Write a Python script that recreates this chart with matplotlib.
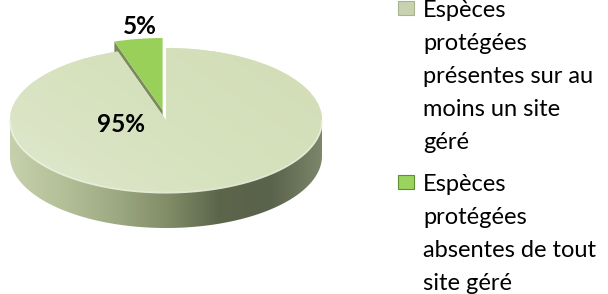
import numpy as np
import matplotlib
matplotlib.use("Agg")
import matplotlib.pyplot as plt
from matplotlib.colors import LinearSegmentedColormap
from matplotlib.patches import Polygon, Rectangle

# ---- data ----
categories = ["Espèces protégées présentes sur au moins un site géré",
              "Espèces protégées absentes de tout site géré"]
legend_lines = [["Espèces", "protégées", "présentes sur au", "moins un site", "géré"],
                ["Espèces", "protégées", "absentes de tout", "site géré"]]
values = [95, 5]
pct_labels = ["95%", "5%"]

# ---- style ----
W, H = 608, 294
cx, cy = 166.0, 120.0      # pie centre in pixels (from top)
a, b = 156.0, 72.0         # ellipse semi-axes in pixels
T = 0.5                    # side thickness (data units, y)
face_colors = ["#d7e2bf", "#98d05a"]
explode = [0, 0.14]
FONT = "Lato"

fig = plt.figure(figsize=(W / 100, H / 100), dpi=100)
ax = fig.add_axes([0, 0, 1, 1])

wedges, _ = ax.pie(values, colors=face_colors, startangle=90, counterclock=False,
                   explode=explode, radius=1, wedgeprops=dict(linewidth=0, zorder=3))
ax.set_aspect("auto")
ax.set_xlim((0 - cx) / a, (W - cx) / a)
ax.set_ylim((cy - H) / b, cy / b)
ax.axis("off")

# side band of the big slice (front half of the cylinder)
t = np.linspace(np.pi, 2 * np.pi, 200)
top = np.column_stack([np.cos(t), np.sin(t)])
bot = np.column_stack([np.cos(t[::-1]), np.sin(t[::-1]) - T])
side = Polygon(np.vstack([top, bot]), closed=True, facecolor="none", edgecolor="none")
ax.add_patch(side)
side_cmap = LinearSegmentedColormap.from_list(
    "side", ["#c6d0ad", "#b4c098", "#9eaa83", "#838e69", "#5d664b", "#59624a", "#7c866a"])
grad = np.linspace(0, 1, 256).reshape(1, -1)
im = ax.imshow(grad, cmap=side_cmap, extent=[-1, 1, -1 - T, 0], aspect="auto",
               zorder=1, interpolation="bilinear")
im.set_clip_path(side)

# top face gradient for the big slice
face_cmap = LinearSegmentedColormap.from_list("face", ["#dfe8cd", "#d6e1bd", "#d2ddb8"])
xx, yy = np.meshgrid(np.linspace(0, 1, 200), np.linspace(0, 1, 100))
fg = 0.6 * xx + 0.4 * (1 - yy)
im2 = ax.imshow(fg, cmap=face_cmap, extent=[-1, 1, -1, 1], aspect="auto",
                zorder=3.5, interpolation="bilinear", origin="upper")
im2.set_clip_path(wedges[0])

# rim highlight along the front edge of the top face
ax.plot(np.cos(t), np.sin(t) - 0.01, color="#eef3e1", lw=1.2, zorder=4, alpha=0.9)

# radial wall of the exploded slice
ex, ey = wedges[1].center
ang = np.deg2rad(wedges[1].theta2)
ox, oy = ex + np.cos(ang), ey + np.sin(ang)
wall = Polygon([[ex, ey], [ox, oy], [ox, oy - T], [ex, ey - T]], closed=True,
               facecolor="#7b8a5c", edgecolor="none", zorder=2)
ax.add_patch(wall)

# percentage labels
ax.text((121 - cx) / a, (cy - 124) / b, pct_labels[0], ha="center", va="center",
        fontsize=17.5, fontweight="bold", family=FONT, color="#000000", zorder=6)
ax.text((140 - cx) / a, (cy - 26) / b, pct_labels[1], ha="center", va="center",
        fontsize=17.5, fontweight="bold", family=FONT, color="#000000", zorder=6)

# legend (drawn in figure pixel coords)
marker_cols = [("#c8d2b0", "#a7b58a"), ("#9ad35e", "#5f8f30")]
entry_top = [17, 191]
line_step = 33.0
for i, lines in enumerate(legend_lines):
    base = entry_top[i]
    my = base - 16
    r = Rectangle((398 / W, 1 - (my + 14) / H), 16 / W, 14 / H, transform=fig.transFigure,
                  facecolor=marker_cols[i][0], edgecolor=marker_cols[i][1], lw=0.8)
    fig.patches.append(r)
    for j, ln in enumerate(lines):
        fig.text(423 / W, 1 - (base + j * line_step) / H, ln, ha="left", va="baseline",
                 fontsize=17, family=FONT, color="#000000")

fig.savefig("out.png", dpi=100)
